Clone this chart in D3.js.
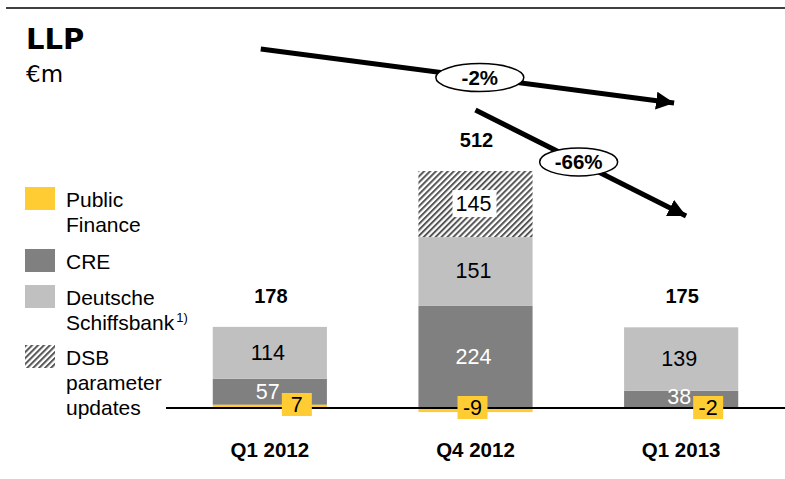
<!DOCTYPE html>
<html>
<head>
<meta charset="utf-8">
<script src="https://cdn.jsdelivr.net/npm/d3@7"></script>
<style>
  body { margin: 0; background: #fff; }
</style>
</head>
<body>
<script>
// data
const quarters = ["Q1 2012", "Q4 2012", "Q1 2013"];
const publicFinance = [7, -9, -2];
const cre = [57, 224, 38];
const schiffsbank = [114, 151, 139];
const dsbUpdates = [0, 145, 0];
const totals = [178, 512, 175];
const changes = [
  { label: "-2%", from: 0, to: 2 },
  { label: "-66%", from: 1, to: 2 }
];

const w = 785;
const h = 479;
const yellow = "#ffcc33";
const dark = "#808080";
const light = "#c0c0c0";

const svg = d3.select("body").append("svg")
  .attr("width", w).attr("height", h)
  .attr("font-family", "'Liberation Sans', Arial, sans-serif");

// hatch pattern
const defs = svg.append("defs");
const pat = defs.append("pattern")
  .attr("id", "hatch")
  .attr("patternUnits", "userSpaceOnUse")
  .attr("width", 4.2)
  .attr("height", 4.2)
  .attr("patternTransform", "rotate(45)");
pat.append("rect").attr("width", 4.2).attr("height", 4.2).attr("fill", "#fff");
pat.append("line").attr("x1", 1).attr("y1", 0).attr("x2", 1).attr("y2", 4.2)
  .attr("stroke", "#555").attr("stroke-width", 2);

const marker = defs.append("marker")
  .attr("id", "arrow")
  .attr("viewBox", "0 0 10 10")
  .attr("refX", 10).attr("refY", 5)
  .attr("markerWidth", 3.6).attr("markerHeight", 3.6)
  .attr("markerUnits", "strokeWidth")
  .attr("orient", "auto");
marker.append("path").attr("d", "M0,0 L10,5 L0,10 Z").attr("fill", "#000");

// scales
const xScale = d3.scaleBand()
  .domain(quarters)
  .range([167, 784])
  .paddingInner(0.445)
  .paddingOuter(0.2225);

const yScale = d3.scaleLinear().domain([0, 520]).range([408, 171]);

// top rule
svg.append("line").attr("x1", 6).attr("x2", w).attr("y1", 8).attr("y2", 8)
  .attr("stroke", "#000").attr("stroke-width", 1.5);

svg.append("text").attr("x", 26).attr("y", 49)
  .attr("font-family", "'DejaVu Sans', Verdana, sans-serif")
  .style("font-weight", "bold").style("font-size", "29px").text("LLP");
svg.append("text").attr("x", 26).attr("y", 82)
  .attr("font-family", "'DejaVu Sans', Verdana, sans-serif")
  .style("font-size", "23px").text("€m");

// stacks
const segs = [];
quarters.forEach(function (q, i) {
  // positive public finance sits under CRE
  let y0 = Math.max(0, publicFinance[i]);
  [
    { v: cre[i], fill: dark, color: "#fff" },
    { v: schiffsbank[i], fill: light, color: "#000" },
    { v: dsbUpdates[i], fill: "url(#hatch)", color: "#000", box: true }
  ].forEach(function (s) {
    segs.push({ q: q, lo: y0, hi: y0 + s.v, v: s.v, fill: s.fill, color: s.color, box: s.box });
    y0 += s.v;
  });
});

const labelled = segs.filter((d) => d.v > 0);

svg.selectAll("rect.seg")
  .data(labelled)
  .enter()
  .append("rect")
  .attr("class", "seg")
  .attr("x", (d) => xScale(d.q))
  .attr("width", xScale.bandwidth())
  .attr("y", (d) => yScale(d.hi))
  .attr("height", (d) => yScale(d.lo) - yScale(d.hi))
  .attr("fill", (d) => d.fill);

// public finance slices
svg.selectAll("rect.pf")
  .data(quarters)
  .enter()
  .append("rect")
  .attr("class", "pf")
  .attr("x", (d) => xScale(d))
  .attr("width", xScale.bandwidth())
  .attr("y", (d, i) => yScale(Math.max(0, publicFinance[i])))
  .attr("height", (d, i) => Math.abs(yScale(0) - yScale(publicFinance[i])))
  .attr("fill", yellow);

// baseline
svg.append("line").attr("x1", 166).attr("x2", w)
  .attr("y1", yScale(0)).attr("y2", yScale(0))
  .attr("stroke", "#000").attr("stroke-width", 2);

// segment labels
labelled.filter((d) => d.box).forEach(function (d) {
  const cx = xScale(d.q) + xScale.bandwidth() / 2;
  const cy = (yScale(d.lo) + yScale(d.hi)) / 2;
  svg.append("rect").attr("x", cx - 23).attr("y", cy - 14)
    .attr("width", 44).attr("height", 27).attr("fill", "#fff");
});

svg.selectAll("text.val")
  .data(labelled)
  .enter()
  .append("text")
  .attr("class", "val")
  .attr("x", (d) => xScale(d.q) + xScale.bandwidth() / 2 - 2)
  .attr("y", function (d) {
    const mid = (yScale(d.lo) + yScale(d.hi)) / 2;
    return d.hi - d.lo < 45 ? yScale(d.lo) - 4 : mid + 7;
  })
  .attr("text-anchor", "middle")
  .style("font-size", "21.5px")
  .attr("fill", (d) => d.color)
  .text((d) => d.v);

// public finance label boxes
const pfG = svg.selectAll("g.pfl")
  .data(quarters)
  .enter()
  .append("g")
  .attr("class", "pfl")
  .attr("transform", (d, i) => "translate(" + (xScale(d) + xScale.bandwidth() / 2 + (i === 1 ? -3 : 27)) + "," + yScale(0) + ")");
pfG.append("rect").attr("x", -15).attr("y", (d, i) => (i === 0 ? -15 : -12))
  .attr("width", 30).attr("height", 23).attr("fill", yellow);
pfG.append("text").attr("text-anchor", "middle")
  .attr("y", (d, i) => (i === 0 ? 4 : 7))
  .style("font-size", "21.5px").attr("fill", "#000")
  .text((d, i) => publicFinance[i]);

// totals
svg.selectAll("text.total")
  .data(quarters)
  .enter()
  .append("text")
  .attr("class", "total")
  .attr("x", (d) => xScale(d) + xScale.bandwidth() / 2 + 1)
  .attr("y", (d, i) => yScale(totals[i] - Math.min(0, publicFinance[i])) - 24)
  .attr("text-anchor", "middle")
  .style("font-size", "20px").style("font-weight", "bold")
  .text((d, i) => totals[i]);

// category labels
svg.selectAll("text.cat")
  .data(quarters)
  .enter()
  .append("text")
  .attr("class", "cat")
  .attr("x", (d) => xScale(d) + xScale.bandwidth() / 2)
  .attr("y", 457)
  .attr("text-anchor", "middle")
  .style("font-size", "20.5px").style("font-weight", "bold")
  .text((d) => d);

// change arrows
const arrowPos = [
  { x1: xScale(quarters[0]) + 48, y1: 49, x2: xScale(quarters[2]) + 50, y2: 103 },
  { x1: xScale(quarters[1]) + 57, y1: 110, x2: xScale(quarters[2]) + 62, y2: 216 }
];
changes.forEach(function (c, i) {
  const p = arrowPos[i];
  svg.append("line")
    .attr("x1", p.x1).attr("y1", p.y1).attr("x2", p.x2).attr("y2", p.y2)
    .attr("stroke", "#000").attr("stroke-width", 5)
    .attr("marker-end", "url(#arrow)");
  const t = i === 0 ? 0.53 : 0.49;
  const cx = p.x1 + (p.x2 - p.x1) * t;
  const cy = p.y1 + (p.y2 - p.y1) * t;
  svg.append("ellipse").attr("cx", cx).attr("cy", cy)
    .attr("rx", i === 0 ? 44 : 39).attr("ry", 14)
    .attr("fill", "#fff").attr("stroke", "#000").attr("stroke-width", 1.5);
  svg.append("text").attr("x", cx).attr("y", cy + 7)
    .attr("text-anchor", "middle")
    .style("font-size", "20.5px").style("font-weight", "bold")
    .text(c.label);
});

// legend
const legend = [
  { fill: yellow, lines: ["Public", "Finance"], y: 187 },
  { fill: dark, lines: ["CRE"], y: 249 },
  { fill: light, lines: ["Deutsche", "Schiffsbank"], y: 285, sup: "1)" },
  { fill: "url(#hatch)", lines: ["DSB", "parameter", "updates"], y: 345 }
];
const lg = svg.selectAll("g.legend")
  .data(legend)
  .enter()
  .append("g")
  .attr("class", "legend")
  .attr("transform", (d) => "translate(25," + d.y + ")");
lg.append("rect").attr("width", 30).attr("height", 23).attr("fill", (d) => d.fill);
lg.each(function (d) {
  const g = d3.select(this);
  const t = g.append("text").attr("x", 41).attr("y", 20).style("font-size", "21px");
  d.lines.forEach(function (l, k) {
    t.append("tspan").attr("x", 41).attr("dy", k === 0 ? 0 : 25).text(l);
  });
  if (d.sup) {
    t.append("tspan").attr("dx", 2).attr("dy", -8).style("font-size", "13px").text(d.sup);
  }
});
</script>
</body>
</html>
